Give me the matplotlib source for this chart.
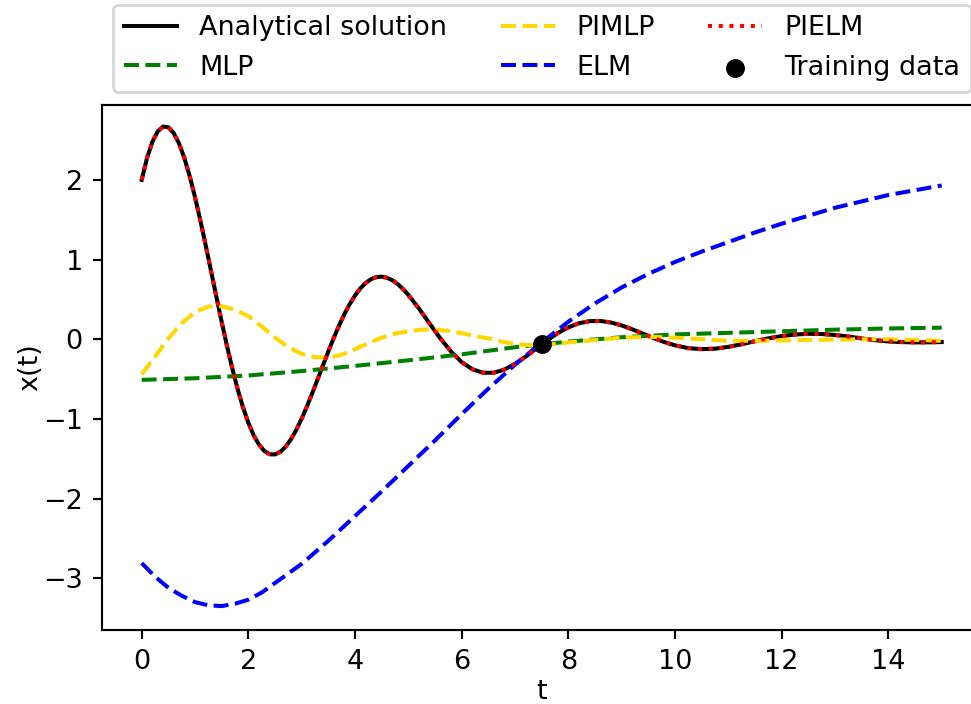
import matplotlib
matplotlib.use("Agg")
import matplotlib.pyplot as plt

# Analytical solution of the damped oscillator (also the PIELM prediction)
t_exact = [0.0, 0.1, 0.2, 0.3, 0.4, 0.5, 0.6, 0.7, 0.8, 0.9,
           1.0, 1.1, 1.2, 1.3, 1.4, 1.5, 1.6, 1.7, 1.8, 1.9,
           2.0, 2.1, 2.2, 2.3, 2.4, 2.5, 2.6, 2.7, 2.8, 2.9,
           3.0, 3.1, 3.2, 3.3, 3.4, 3.5, 3.6, 3.7, 3.8, 3.9,
           4.0, 4.1, 4.2, 4.3, 4.4, 4.5, 4.6, 4.7, 4.8, 4.9,
           5.0, 5.2, 5.4, 5.6, 5.8, 6.0, 6.2, 6.4, 6.6, 6.8,
           7.0, 7.2, 7.4, 7.6, 7.8, 8.0, 8.2, 8.4, 8.6, 8.8,
           9.0, 9.2, 9.4, 9.6, 9.8, 10.0, 10.25, 10.5, 10.75, 11.0,
           11.25, 11.5, 11.75, 12.0, 12.25, 12.5, 12.75, 13.0, 13.25, 13.5,
           13.75, 14.0, 14.25, 14.5, 14.75, 15.0]
x_exact = [2.0, 2.275, 2.478, 2.609, 2.669, 2.661, 2.588, 2.457, 2.274, 2.046,
           1.782, 1.49, 1.179, 0.858, 0.535, 0.217, -0.087, -0.37, -0.629, -0.856,
           -1.05, -1.207, -1.324, -1.403, -1.444, -1.446, -1.414, -1.349, -1.255, -1.136,
           -0.996, -0.841, -0.674, -0.5, -0.325, -0.152, 0.014, 0.171, 0.314, 0.441,
           0.549, 0.639, 0.707, 0.754, 0.78, 0.785, 0.771, 0.74, 0.692, 0.63,
           0.556, 0.384, 0.195, 0.01, -0.155, -0.287, -0.377, -0.421, -0.421, -0.381,
           -0.31, -0.219, -0.116, -0.015, 0.076, 0.149, 0.201, 0.227, 0.229, 0.21,
           0.173, 0.124, 0.069, 0.014, -0.036, -0.077, -0.112, -0.125, -0.119, -0.096,
           -0.063, -0.025, 0.011, 0.04, 0.059, 0.068, 0.065, 0.053, 0.034, 0.01,
           -0.012, -0.028, -0.036, -0.04, -0.039, -0.036]
x_pielm = list(x_exact)

# MLP (data only)
t_mlp = [0, 1, 2, 3, 4, 5, 6, 7, 8, 9, 10, 11, 12, 13, 14, 15]
x_mlp = [-0.51, -0.49, -0.455, -0.40, -0.335, -0.265, -0.19, -0.10, -0.03, 0.025,
         0.06, 0.08, 0.10, 0.12, 0.135, 0.145]

# PIMLP
t_pimlp = [0.0, 0.25, 0.5, 0.75, 1.0, 1.25, 1.5, 1.75, 2.0, 2.25, 2.5, 2.75, 3.0, 3.25,
           3.5, 3.75, 4.0, 4.25, 4.5, 4.75, 5.0, 5.25, 5.5, 5.75, 6.0, 6.25, 6.5, 6.75,
           7.0, 7.25, 7.5, 7.75, 8.0, 8.5, 9.0, 9.5, 10.0, 10.5, 11.0, 11.5, 12.0, 12.5,
           13.0, 13.5, 14.0, 14.5, 15.0]
x_pimlp = [-0.44, -0.22, 0.01, 0.2, 0.34, 0.41, 0.415, 0.37, 0.29, 0.16, 0.02, -0.1,
           -0.185, -0.225, -0.233, -0.195, -0.125, -0.05, 0.02, 0.07, 0.1, 0.12, 0.122,
           0.105, 0.075, 0.04, 0.01, -0.03, -0.06, -0.075, -0.07, -0.06, -0.04, -0.01,
           0.02, 0.03, 0.02, 0.0, -0.02, -0.02, -0.015, -0.01, -0.005, 0.0, 0.0, -0.01,
           -0.02]

# ELM (data only)
t_elm = [0.0, 0.25, 0.5, 0.75, 1.0, 1.25, 1.5, 1.75, 2.0, 2.25, 2.5, 2.75, 3.0,
         3.5, 4.0, 4.5, 5.0, 5.5, 6.0, 6.5, 7.0, 7.5,
         8.0, 8.5, 9.0, 9.5, 10.0, 10.5, 11.0, 11.5, 12.0, 12.5, 13.0, 13.5, 14.0, 14.5,
         15.0]
x_elm = [-2.81, -2.98, -3.12, -3.22, -3.30, -3.34, -3.35, -3.32, -3.27, -3.18, -3.06,
         -2.94, -2.82, -2.53, -2.22, -1.91, -1.59,
         -1.27, -0.94, -0.62, -0.32, -0.04, 0.22, 0.45, 0.65, 0.82, 0.97, 1.10, 1.22,
         1.34, 1.45, 1.55, 1.65, 1.73, 1.81, 1.87, 1.93]

# Training observation
t_train = [7.5]
x_train = [-0.065]

DPI = 194
fig = plt.figure(figsize=(971 / DPI, 704 / DPI), dpi=DPI)
ax = fig.add_axes([101.7 / 971, 74 / 704, 880 / 971, 525 / 704])

ax.plot(t_exact, x_exact, color="black", linestyle="-", label="Analytical solution")
ax.plot(t_mlp, x_mlp, color="green", linestyle="--", label="MLP")
ax.plot(t_pimlp, x_pimlp, color="gold", linestyle="--", label="PIMLP")
ax.plot(t_elm, x_elm, color="blue", linestyle="--", label="ELM")
ax.plot(t_exact, x_pielm, color="red", linestyle=":", label="PIELM")
ax.scatter(t_train, x_train, color="black", zorder=5, label="Training data")

ax.set_xlim(-0.75, 15.75)
ax.set_ylim(-3.65, 2.94)
ax.set_xticks([0, 2, 4, 6, 8, 10, 12, 14])
ax.set_yticks([-3, -2, -1, 0, 1, 2])
ax.set_xlabel("t", labelpad=1.5)
ax.set_ylabel("x(t)", labelpad=0.0)

ax.legend(loc="lower center", bbox_to_anchor=(0.5, 1.0), ncol=3)

fig.savefig("out.png", dpi=DPI)
